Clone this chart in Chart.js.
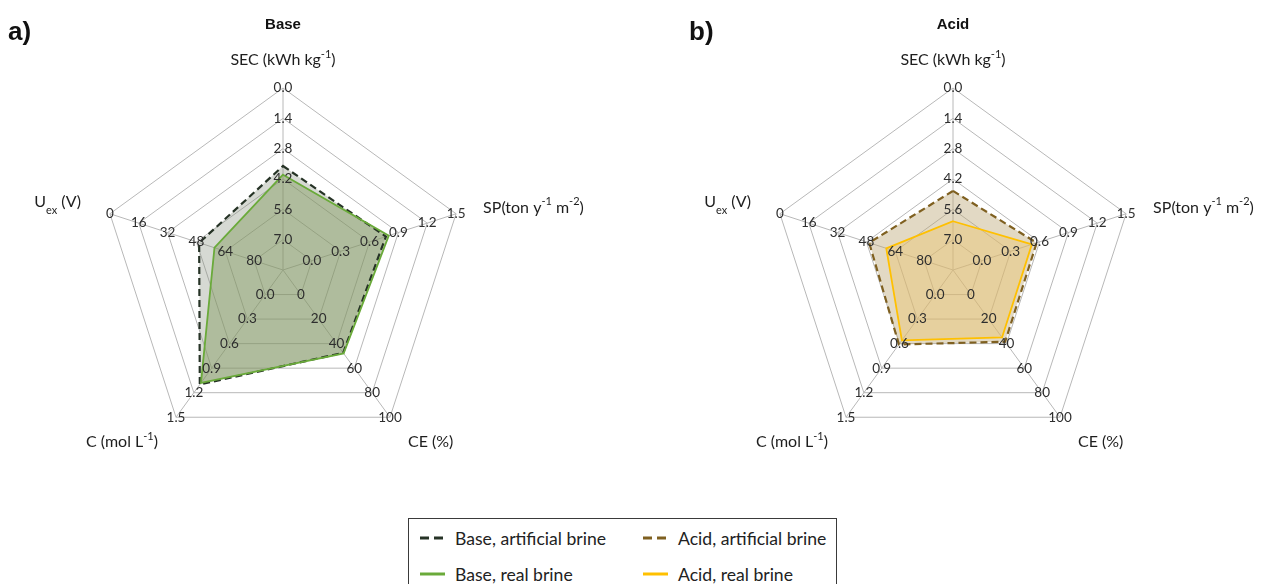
<!DOCTYPE html>
<html>
<head>
<meta charset="utf-8">
<script src="https://cdn.jsdelivr.net/npm/chart.js@4/dist/chart.umd.min.js"></script>
<style>
  body { margin: 0; background: #fff; width: 1263px; height: 584px; overflow: hidden; position: relative; font-family: Lato, "Open Sans", sans-serif; }
  #chartA { position: absolute; left: 0; top: 0; }
  #chartB { position: absolute; left: 632px; top: 0; }
  #legend { position: absolute; left: 408px; top: 518px; width: 429px; height: 76px; border: 1.5px solid #3a3a3a; box-sizing: border-box; color: #222; font-size: 17.6px; }
  .item { position: absolute; display: flex; align-items: center; height: 20px; white-space: nowrap; }
  .item svg { margin-right: 10px; }
</style>
</head>
<body>
<canvas id="chartA" width="632" height="500"></canvas>
<canvas id="chartB" width="631" height="500"></canvas>
<div id="legend"></div>

<script>
// axes, clockwise from the top
const axisKeys = ['SEC', 'SP', 'CE', 'C', 'Uex'];

// values at the innermost ring (ring 1) and at the outer ring (ring 6)
const innerVal = [7.0, 0.0, 0, 0.0, 80];
const outerVal = [0.0, 1.5, 100, 1.5, 0];

// tick labels along each axis, ring 1 .. ring 6
const ticksSEC = ['7.0', '5.6', '4.2', '2.8', '1.4', '0.0'];
const ticksSP  = ['0.0', '0.3', '0.6', '0.9', '1.2', '1.5'];
const ticksCE  = ['0', '20', '40', '60', '80', '100'];
const ticksC   = ['0.0', '0.3', '0.6', '0.9', '1.2', '1.5'];
const ticksUex = ['80', '64', '48', '32', '16', '0'];

// series values: SEC, SP, CE, C, Uex
const baseArtificial = [3.6, 0.77, 47.5, 1.10, 49.5];
const baseReal       = [4.0, 0.80, 48, 1.08, 58];
const acidArtificial = [4.75, 0.57, 38.5, 0.61, 49.5];
const acidReal       = [6.15, 0.52, 35, 0.56, 59];

const axisTicks = [ticksSEC, ticksSP, ticksCE, ticksC, ticksUex];

// axis titles as pieces: [text, 'n' | 'sup' | 'sub']
const axisTitles = [
  [['SEC (kWh kg', 'n'], ['-1', 'sup'], [')', 'n']],
  [['SP(ton y', 'n'], ['-1', 'sup'], [' m', 'n'], ['-2', 'sup'], [')', 'n']],
  [['CE (%)', 'n']],
  [['C (mol L', 'n'], ['-1', 'sup'], [')', 'n']],
  [['U', 'n'], ['ex', 'sub'], [' (V)', 'n']]
];
// where each title sits relative to the outer vertex of its axis
const titlePlace = [
  {dx: 0, dy: -28, align: 'center'},
  {dx: 27, dy: -6, align: 'left'},
  {dx: 18, dy: 25, align: 'left'},
  {dx: -18, dy: 25, align: 'right'},
  {dx: -29, dy: -12, align: 'right'}
];

function toRing(v, i) {
  return 1 + 5 * (v - innerVal[i]) / (outerVal[i] - innerVal[i]);
}

function drawRich(ctx, pieces, x, y, align) {
  const big = '16px Lato', small = '11px Lato';
  let w = 0;
  pieces.forEach(p => { ctx.font = p[1] === 'n' ? big : small; w += ctx.measureText(p[0]).width; });
  let cx = align === 'center' ? x - w / 2 : (align === 'right' ? x - w : x);
  ctx.textAlign = 'left';
  pieces.forEach(p => {
    ctx.font = p[1] === 'n' ? big : small;
    let off = 0;
    if (p[1] === 'sup') off = -6;
    if (p[1] === 'sub') off = 9;
    ctx.fillText(p[0], cx, y + off);
    cx += ctx.measureText(p[0]).width;
  });
}

const radarDecor = {
  id: 'radarDecor',
  afterDatasetsDraw(chart, args, opts) {
    const ctx = chart.ctx;
    const r = chart.scales.r;
    ctx.save();
    ctx.fillStyle = '#2e2e2e';
    ctx.textBaseline = 'middle';
    ctx.textAlign = 'center';
    ctx.font = '13.5px Lato';
    axisTicks.forEach((labels, i) => {
      labels.forEach((t, k) => {
        const p = r.getPointPositionForValue(i, k + 1);
        ctx.fillText(t, p.x, p.y);
      });
    });
    ctx.fillStyle = '#1e1e1e';
    axisTitles.forEach((pieces, i) => {
      const p = r.getPointPositionForValue(i, r.max);
      const pl = titlePlace[i];
      drawRich(ctx, pieces, p.x + pl.dx, p.y + pl.dy, pl.align);
    });
    // panel title and letter
    ctx.fillStyle = '#111';
    ctx.textAlign = 'center';
    ctx.font = 'bold 15px "Liberation Sans"';
    ctx.fillText(opts.title, r.xCenter, 25);
    ctx.textAlign = 'left';
    ctx.font = 'bold 26px "Liberation Sans"';
    ctx.fillText(opts.letter, opts.letterX, 33);
    ctx.restore();
  }
};

function makeRadar(id, letter, letterX, title, pad, sets) {
  new Chart(document.getElementById(id), {
    type: 'radar',
    data: {
      labels: axisKeys,
      datasets: sets.map(s => ({
        label: s.name,
        data: s.values.map(toRing),
        borderColor: s.line,
        backgroundColor: s.fill,
        borderWidth: s.dash ? 2.2 : 1.8,
        borderDash: s.dash ? [7, 4] : [],
        fill: true,
        pointRadius: 0,
        tension: 0
      }))
    },
    options: {
      responsive: false,
      animation: false,
      layout: {padding: pad},
      plugins: {
        legend: {display: false},
        tooltip: {enabled: false},
        filler: {drawTime: 'beforeDatasetsDraw'},
        radarDecor: {letter: letter, letterX: letterX, title: title}
      },
      scales: {
        r: {
          min: 0, max: 6,
          ticks: {display: false, stepSize: 1},
          grid: {color: '#b8b8b8', lineWidth: 1},
          angleLines: {color: '#b8b8b8', lineWidth: 1},
          pointLabels: {display: false}
        }
      }
    },
    plugins: [radarDecor]
  });
}

const seriesA = [
  {name: 'Base, real brine', values: baseReal, line: '#6aaa3a', fill: 'rgba(128,152,90,0.45)', dash: false},
  {name: 'Base, artificial brine', values: baseArtificial, line: '#263326', fill: 'rgba(130,140,122,0.33)', dash: true}
];
const seriesB = [
  {name: 'Acid, real brine', values: acidReal, line: '#ffc000', fill: 'rgba(235,195,110,0.45)', dash: false},
  {name: 'Acid, artificial brine', values: acidArtificial, line: '#7f6020', fill: 'rgba(185,165,115,0.42)', dash: true}
];

makeRadar('chartA', 'a)', 8, 'Base', {left: 101, right: 167, top: 88, bottom: 48}, seriesA);
makeRadar('chartB', 'b)', 57, 'Acid', {left: 139, right: 128, top: 88, bottom: 48}, seriesB);

// legend box below the two panels
const legendItems = [
  {s: seriesA[1], x: 11, y: 9},
  {s: seriesB[1], x: 234, y: 9},
  {s: seriesA[0], x: 11, y: 45},
  {s: seriesB[0], x: 234, y: 45}
];
const legend = document.getElementById('legend');
legendItems.forEach(it => {
  const d = document.createElement('div');
  d.className = 'item';
  d.style.left = it.x + 'px';
  d.style.top = it.y + 'px';
  const dash = it.s.dash ? 'stroke-dasharray="9,5"' : '';
  d.innerHTML = '<svg width="25" height="6"><line x1="0" y1="3" x2="25" y2="3" stroke="' + it.s.line +
    '" stroke-width="3" ' + dash + '/></svg><span>' + it.s.name + '</span>';
  legend.appendChild(d);
});
</script>
</body>
</html>
